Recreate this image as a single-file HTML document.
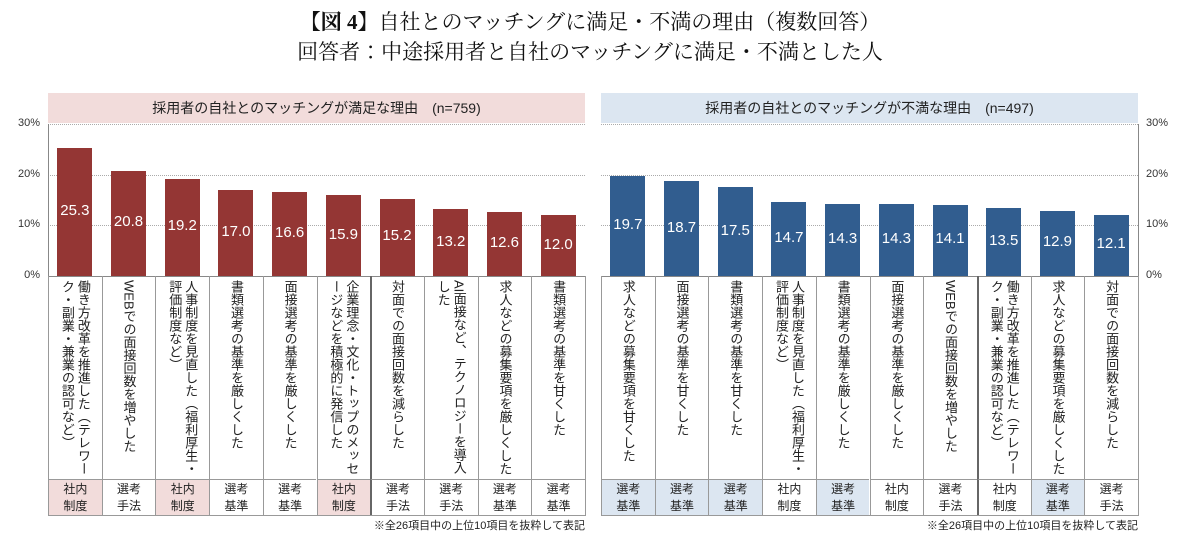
<!DOCTYPE html>
<html><head><meta charset="utf-8">
<style>
body{margin:0;width:1180px;height:560px;background:#fff;position:relative;overflow:hidden;font-family:"Liberation Sans","Noto Sans CJK JP",sans-serif;}
.abs{position:absolute;}
.title{left:0;width:1180px;text-align:center;font-family:"Liberation Serif","Noto Serif CJK JP",serif;font-size:21px;color:#111;}
.hdr{height:30px;line-height:30px;text-align:center;font-size:14px;color:#222;}
.tick{font-size:11px;color:#333;}
.grid{height:0;border-top:1px dotted #aaa;}
.val{color:#fff;font-size:15px;text-align:center;}
.lbl{writing-mode:vertical-rl;font-size:13px;line-height:16px;height:196px;color:#222;display:flex;justify-content:flex-start;}
.cell{border-left:1px solid #999;box-sizing:border-box;}
.cat{font-size:12px;text-align:center;line-height:17px;padding-top:1px;box-sizing:border-box;color:#222;border-left:1px solid #999;border-top:1px solid #999;}
.foot{font-size:11px;color:#222;}
</style></head><body>
<div class="abs title" style="top:6px"><b>【図 4】</b>自社とのマッチングに満足・不満の理由（複数回答）</div>
<div class="abs title" style="top:36px">回答者：中途採用者と自社のマッチングに満足・不満とした人</div>
<div id="root"></div>
<script>
const leftCats=["働き方改革を推進した（テレワーク・副業・兼業の認可など）","WEBでの面接回数を増やした","人事制度を見直した（福利厚生・評価制度など）","書類選考の基準を厳しくした","面接選考の基準を厳しくした","企業理念・文化・トップのメッセージなどを積極的に発信した","対面での面接回数を減らした","AI面接など、テクノロジーを導入した","求人などの募集要項を厳しくした","書類選考の基準を甘くした"];
const leftVals=[25.3,20.8,19.2,17.0,16.6,15.9,15.2,13.2,12.6,12.0];
const leftTypes=["社内制度","選考手法","社内制度","選考基準","選考基準","社内制度","選考手法","選考手法","選考基準","選考基準"];
const rightCats=["求人などの募集要項を甘くした","面接選考の基準を甘くした","書類選考の基準を甘くした","人事制度を見直した（福利厚生・評価制度など）","書類選考の基準を厳しくした","面接選考の基準を厳しくした","WEBでの面接回数を増やした","働き方改革を推進した（テレワーク・副業・兼業の認可など）","求人などの募集要項を厳しくした","対面での面接回数を減らした"];
const rightVals=[19.7,18.7,17.5,14.7,14.3,14.3,14.1,13.5,12.9,12.1];
const rightTypes=["選考基準","選考基準","選考基準","社内制度","選考基準","社内制度","選考手法","社内制度","選考基準","選考手法"];
const ticks=[0,10,20,30];
const Y0=276,Y30=124;
function y(v){return Y0-(Y0-Y30)*v/30;}
const root=document.getElementById('root');
function mk(cls,st,txt){const d=document.createElement('div');d.className='abs '+cls;Object.assign(d.style,st);if(txt!=null)d.textContent=txt;root.appendChild(d);return d;}
function chart(x0,x1,cats,vals,types,color,hl,hlType,headTxt,axisRight,thickAfter,side){
  const w=(x1-x0)/cats.length;
  let h=mk('hdr',{left:x0+'px',top:'93px',width:(x1-x0)+'px',background:hl},headTxt);
  
  ticks.forEach(t=>{
    if(t>0){let g=mk('grid',{left:x0+'px',top:y(t)+'px',width:(x1-x0)+'px'});}
    let l=mk('tick',{left:(axisRight?x1+8:x0-38)+'px',top:(y(t)-7)+'px',width:'30px',textAlign:axisRight?'left':'right'},t+'%');
    
  });
  let ax=mk('',{left:(axisRight?x1:x0)+'px',top:Y30+'px',width:'1px',height:(Y0-Y30)+'px',background:'#888'});
  
  let bx=mk('',{left:x0+'px',top:Y0+'px',width:(x1-x0)+'px',height:'1px',background:'#888'});
  
  cats.forEach((c,i)=>{
    const cx=x0+i*w;const bw=35;
    let b=mk('bar',{left:(cx+(w-bw)/2)+'px',top:y(vals[i])+'px',width:bw+'px',height:(Y0-y(vals[i]))+'px',background:color});
    
    let v=mk('val',{left:cx+'px',top:((y(vals[i])+Y0)/2-10)+'px',width:w+'px'},vals[i].toFixed(1));
    
    let cell=mk('cell',{left:cx+'px',top:Y0+'px',width:w+'px',height:(515-Y0)+'px',borderLeft:(i===thickAfter?'2px solid #666':'1px solid #999')});
    
    let l=mk('lbl',{left:(cx+2)+'px',top:'280px',width:(w-4)+'px'},null);
    const s=document.createElement('span');s.textContent=c;s.style.margin='0 auto';l.appendChild(s);
    
    let t=mk('cat',{left:cx+'px',top:'479px',width:w+'px',height:'36px',background:types[i]===hlType?hl:'#fff',borderLeft:(i===thickAfter?'2px solid #666':'1px solid #999')});
    t.innerHTML=types[i].slice(0,2)+'<br>'+types[i].slice(2);
    
  });
  let r=mk('',{left:x1+'px',top:Y0+'px',width:'1px',height:(515-Y0)+'px',background:'#999'});
  
  let bb=mk('',{left:x0+'px',top:'515px',width:(x1-x0+1)+'px',height:'1px',background:'#999'});
  
  let f=mk('foot',{left:(x1-300)+'px',top:'517px',width:'300px',textAlign:'right'},'※全26項目中の上位10項目を抜粋して表記');
  
}
chart(48,585,leftCats,leftVals,leftTypes,'#943634','#f2dcdb','社内制度','採用者の自社とのマッチングが満足な理由　(n=759)',false,6,'left');
chart(601,1138,rightCats,rightVals,rightTypes,'#315d8f','#dce6f1','選考基準','採用者の自社とのマッチングが不満な理由　(n=497)',true,7,'right');
</script>
</body></html>
